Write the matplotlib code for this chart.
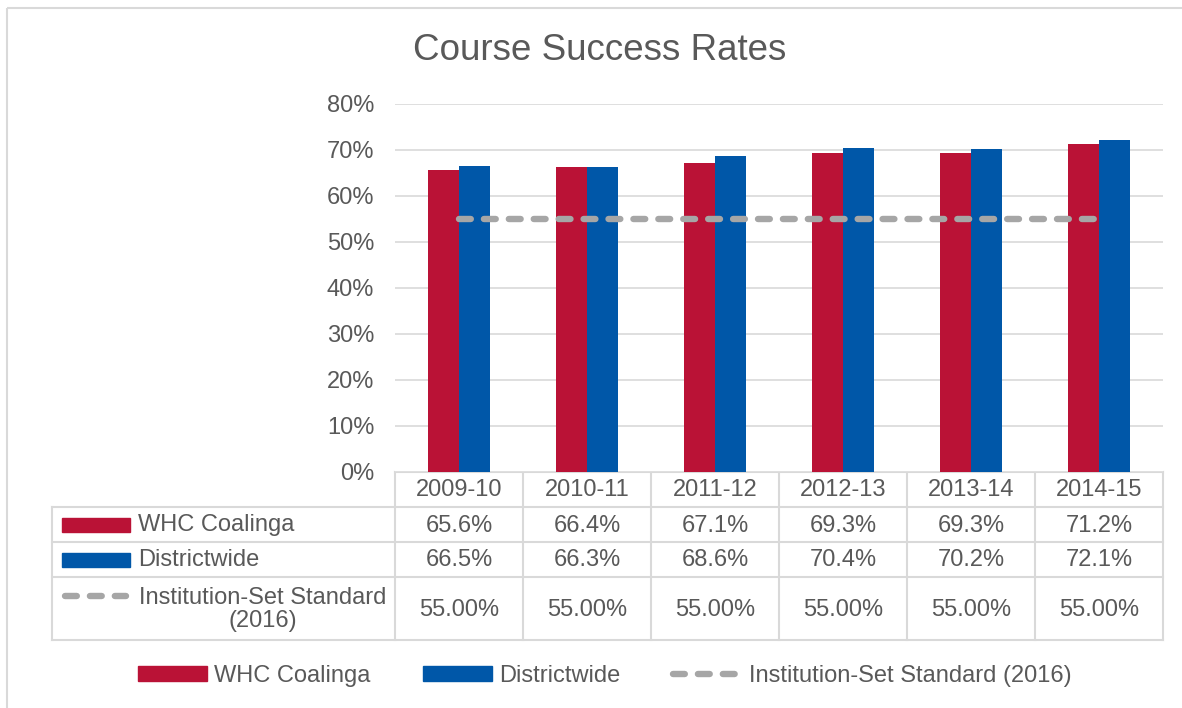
import numpy as np
import matplotlib; matplotlib.use("Agg")
import matplotlib.pyplot as plt
from matplotlib.patches import Rectangle, Patch
from matplotlib.lines import Line2D

plt.rcParams["font.family"] = ["Liberation Sans", "DejaVu Sans"]
TXT = "#595959"
GRID = "#D9D9D9"
RED = "#BA1236"
BLUE = "#0057A8"
GREY = "#A6A6A6"
DLW = 4.6
DASH = (0, (1.85, 2.05))

years = ["2009-10", "2010-11", "2011-12", "2012-13", "2013-14", "2014-15"]
whc = [65.6, 66.4, 67.1, 69.3, 69.3, 71.2]
district = [66.5, 66.3, 68.6, 70.4, 70.2, 72.1]
standard = [55.0, 55.0, 55.0, 55.0, 55.0, 55.0]
names = ["WHC Coalinga", "Districtwide", "Institution-Set Standard (2016)"]

W, H = 1182, 708
fig = plt.figure(figsize=(W / 100, H / 100), dpi=100)

# plot area in pixels
L, R, B, T = 395, 1163, 472, 104
ax = fig.add_axes([L / W, 1 - B / H, (R - L) / W, (B - T) / H])
x = np.arange(len(years))
bw = 0.24
ax.bar(x - bw / 2, whc, bw, color=RED, zorder=3)
ax.bar(x + bw / 2, district, bw, color=BLUE, zorder=3)
ax.plot(x, standard, color=GREY, lw=DLW, ls=DASH, dash_capstyle="round", zorder=4)
ax.set_xlim(-0.5, len(years) - 0.5)
ax.set_ylim(0, 80)
ax.set_yticks(np.arange(0, 81, 10))
ax.set_yticklabels([f"{v}%" for v in range(0, 81, 10)], fontsize=17, color=TXT)
ax.tick_params(axis="y", length=0, pad=15)
ax.set_xticks([])
ax.grid(axis="y", color=GRID, lw=1.2, zorder=0)
for s in ax.spines.values():
    s.set_visible(False)

# overlay in pixel coords: border + data table
ov = fig.add_axes([0, 0, 1, 1], zorder=-1)
ov.set_xlim(0, W); ov.set_ylim(H, 0); ov.axis("off")
ov.add_patch(Rectangle((7, 8), W, H, fill=False, ec=GRID, lw=1.5))

cw = (R - L) / len(years)
rows = [472, 507, 542, 577, 640]
TL = 52
ov.plot([L, R], [rows[0]] * 2, color=GRID, lw=1.5)
for yy in rows[1:]:
    ov.plot([TL, R], [yy] * 2, color=GRID, lw=1.5)
ov.plot([TL, TL], [rows[1], rows[-1]], color=GRID, lw=1.5)
for i in range(len(years) + 1):
    ov.plot([L + i * cw] * 2, [rows[0], rows[-1]], color=GRID, lw=1.5)

fs = 17
for i, yr in enumerate(years):
    cx = L + (i + 0.5) * cw
    ov.text(cx, (rows[0] + rows[1]) / 2 + 1, yr, ha="center", va="center", fontsize=fs, color=TXT)
    ov.text(cx, (rows[1] + rows[2]) / 2 + 1, f"{whc[i]:.1f}%", ha="center", va="center", fontsize=fs, color=TXT)
    ov.text(cx, (rows[2] + rows[3]) / 2 + 1, f"{district[i]:.1f}%", ha="center", va="center", fontsize=fs, color=TXT)
    ov.text(cx, (rows[3] + rows[4]) / 2 + 1, f"{standard[i]:.2f}%", ha="center", va="center", fontsize=fs, color=TXT)

# row labels with keys
for k, col in enumerate([RED, BLUE]):
    yc = (rows[k + 1] + rows[k + 2]) / 2
    ov.add_patch(Rectangle((62, yc - 7), 68, 14, color=col))
    ov.text(138, yc + 1, names[k], ha="left", va="center", fontsize=fs, color=TXT)
ov.plot([65, 126], [596, 596], color=GREY, lw=DLW, ls=DASH, dash_capstyle="round")
ov.text(263, (rows[3] + rows[4]) / 2 + 1, "Institution-Set Standard\n(2016)", ha="center", va="center",
        fontsize=fs, color=TXT, linespacing=1.05)

fig.text(600 / W, 1 - 50 / H, "Course Success Rates", ha="center", va="center", fontsize=26.5, color=TXT)

handles = [Patch(color=RED), Patch(color=BLUE),
           Line2D([], [], color=GREY, lw=DLW, ls=DASH, dash_capstyle="round")]
leg = fig.legend(handles, names, loc="center", bbox_to_anchor=(605 / W, 1 - 676 / H), ncol=3,
                 frameon=False, fontsize=fs, handlelength=2.9, handleheight=0.6,
                 handletextpad=0.3, columnspacing=2.25, labelcolor=TXT)

fig.savefig("out.png", dpi=100)
